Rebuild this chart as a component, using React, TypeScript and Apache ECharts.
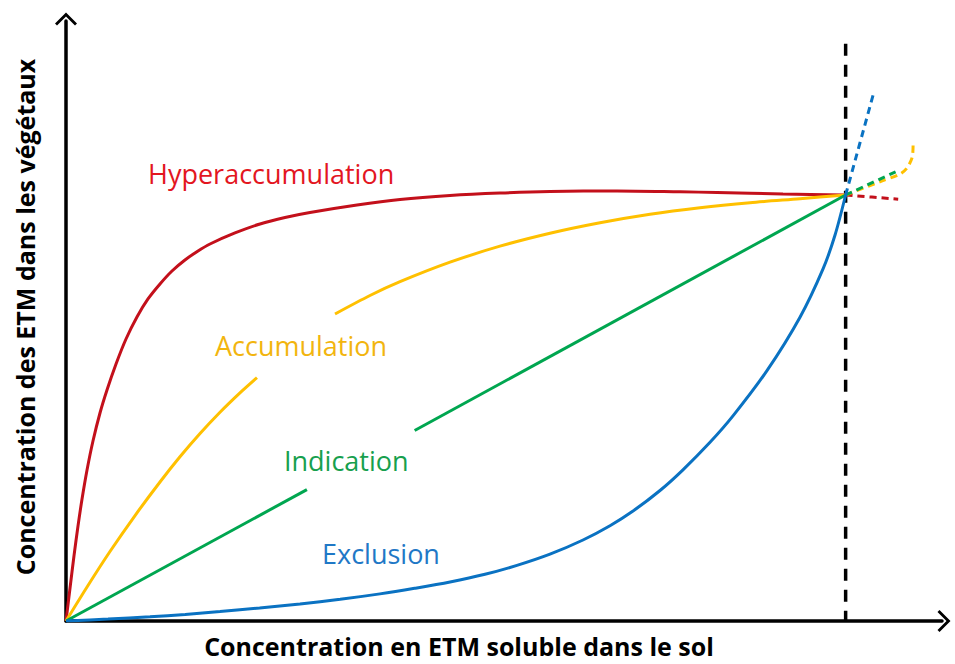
import React, { useEffect, useRef } from "react";
import * as echarts from "echarts";

// Values (x: soluble concentration in soil, y: concentration in plants, arbitrary units 0-100)
const hyperaccumulation = [
  [0, 0], [0.46, 5.5], [0.91, 10.83], [1.37, 15.83], [1.83, 20.33], [2.4, 25.17], [3.08, 30],
  [3.88, 34.67], [4.68, 38.5], [5.71, 42.83], [6.85, 47], [8.1, 50.67], [9.36, 53.67],
  [10.73, 56.17], [12.1, 58.33], [13.58, 60.17], [15.07, 61.67], [16.44, 62.83], [19.29, 64.67],
  [22.15, 66.17], [25, 67.25], [27.85, 68.08], [33.22, 69.33], [38.13, 70.25], [43.84, 70.92],
  [49.54, 71.33], [55.25, 71.58], [62.9, 71.67], [70.09, 71.53], [74.32, 71.42], [81.85, 71.17], [89, 71],
];
const hyperaccumulationBeyond = [[89, 71], [95, 70.3]];

const accumulationLower = [
  [0, 0], [2.51, 5.92], [5.02, 11.58], [7.88, 17.58], [10.73, 23.17], [13.01, 27.37],
  [15.3, 31.25], [17.58, 34.8], [19.86, 38.03], [21.8, 40.57],
];
const accumulationUpper = [
  [30.71, 51.17], [34.7, 54.25], [38.13, 56.55], [43.84, 59.8], [49.54, 62.47], [55.25, 64.63],
  [60.96, 66.38], [66.67, 67.8], [72.37, 68.88], [78.08, 69.72], [83.79, 70.38], [89, 71],
];
const accumulationBeyond = [[89, 71], [92.9, 73.2], [95.2, 74.5], [96, 75.5], [96.6, 77.3], [96.7, 79.3]];

const indicationLower = [[0, 0], [27.5, 21.9]];
const indicationUpper = [[39.8, 31.75], [89, 71]];
const indicationBeyond = [[89, 71], [95.2, 75.2]];

const exclusion = [
  [0, 0], [4.8, 0.33], [9.59, 0.7], [13.6, 1.1], [17.58, 1.58], [22.1, 2.18], [26.71, 2.85],
  [31.3, 3.62], [35.84, 4.52], [39.8, 5.45], [43.84, 6.5], [47.83, 7.78], [51.48, 9.27],
  [55.25, 11.14], [59.02, 13.5], [62.1, 15.88], [64.73, 18.33], [67.81, 21.75], [70.43, 25.2],
  [73.52, 29.78], [76.14, 34.18], [80.02, 41.72], [83.79, 50.63], [86.42, 58.68], [87.79, 64.33], [89, 71],
];
const exclusionBeyond = [[89, 71], [92.2, 88]];

const threshold = [[89, 96.2], [89, 0]];

const curveLabels = ["Hyperaccumulation", "Accumulation", "Indication", "Exclusion"];
const xTitle = "Concentration en ETM soluble dans le sol";
const yTitle = "Concentration des ETM dans les végétaux";

const RED = "#C3101B";
const YELLOW = "#FFC000";
const GREEN = "#00A650";
const BLUE = "#0A72C2";

const chevron = "path://M0,11 L11,0 L22,11 L20,13 L11,4 L2,13 Z";

export default function App() {
  const ref = useRef<HTMLDivElement>(null);
  useEffect(() => {
    if (!ref.current) return;
    const chart = echarts.init(ref.current, undefined, { renderer: "svg" });
    const solid = (name: string, data: number[][], color: string, smooth: number | boolean = 0.3) => ({
      name,
      type: "line",
      data,
      smooth,
      symbol: "none",
      lineStyle: { color, width: 3 },
      z: 3,
    });
    const dashed = (name: string, data: number[][], color: string) => ({
      name,
      type: "line",
      data,
      smooth: 0.3,
      symbol: "none",
      lineStyle: { color, width: 3, type: [7, 5] },
      z: 3,
    });
    const font = "'Open Sans', 'Noto Sans', sans-serif";
    chart.setOption({
      animation: false,
      backgroundColor: "#ffffff",
      grid: { left: 66, right: 13, top: 21, bottom: 43, containLabel: false },
      xAxis: {
        type: "value",
        min: 0,
        max: 100,
        axisLine: {
          show: true,
          onZero: false,
          symbol: ["none", chevron],
          symbolSize: [22, 13],
          symbolOffset: [0, 2],
          lineStyle: { color: "#000", width: 3.5 },
        },
        axisTick: { show: false },
        axisLabel: { show: false },
        splitLine: { show: false },
      },
      yAxis: {
        type: "value",
        min: 0,
        max: 100,
        axisLine: {
          show: true,
          onZero: false,
          symbol: ["none", chevron],
          symbolSize: [22, 13],
          symbolOffset: [0, 2],
          lineStyle: { color: "#000", width: 3.5 },
        },
        axisTick: { show: false },
        axisLabel: { show: false },
        splitLine: { show: false },
      },
      series: [
        {
          name: "Seuil",
          type: "line",
          data: threshold,
          symbol: "none",
          lineStyle: { color: "#000", width: 3.5, type: [12, 9] },
          z: 2,
        },
        solid("Hyperaccumulation", hyperaccumulation, RED),
        dashed("Hyperaccumulation (suite)", hyperaccumulationBeyond, RED),
        solid("Accumulation", accumulationLower, YELLOW),
        solid("Accumulation ", accumulationUpper, YELLOW),
        dashed("Accumulation (suite)", accumulationBeyond, YELLOW),
        solid("Indication", indicationLower, GREEN, false),
        solid("Indication ", indicationUpper, GREEN, false),
        dashed("Indication (suite)", indicationBeyond, GREEN),
        solid("Exclusion", exclusion, BLUE),
        dashed("Exclusion (suite)", exclusionBeyond, BLUE),
      ],
      graphic: [
        { type: "text", x: 148, y: 173, style: { text: curveLabels[0], fill: "#E3161F", font: `27px ${font}`, align: "left", verticalAlign: "middle" } },
        { type: "text", x: 215, y: 345, style: { text: curveLabels[1], fill: "#F2B50F", font: `27px ${font}`, align: "left", verticalAlign: "middle" } },
        { type: "text", x: 284, y: 460, style: { text: curveLabels[2], fill: "#17A04E", font: `27px ${font}`, align: "left", verticalAlign: "middle" } },
        { type: "text", x: 322, y: 553, style: { text: curveLabels[3], fill: "#1F78C6", font: `27px ${font}`, align: "left", verticalAlign: "middle" } },
        { type: "text", x: 459, y: 646, style: { text: xTitle, fill: "#000", font: `bold 25px ${font}`, lineHeight: 25, align: "center", verticalAlign: "middle" } },
        { type: "text", x: 25, y: 317, rotation: Math.PI / 2, style: { text: yTitle, fill: "#000", font: `bold 25px ${font}`, lineHeight: 25, align: "center", verticalAlign: "middle" } },
      ],
    });
    return () => chart.dispose();
  }, []);
  return <div ref={ref} style={{ position: "fixed", left: 0, top: 0, width: 955, height: 664 }} />;
}
